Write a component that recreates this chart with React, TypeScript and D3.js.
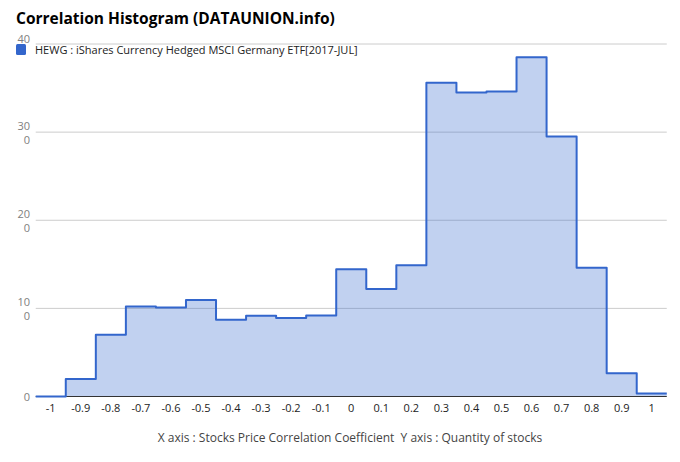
import React from "react";
import * as d3 from "d3";

const title = "Correlation Histogram (DATAUNION.info)";
const seriesName = "HEWG : iShares Currency Hedged MSCI Germany ETF[2017-JUL]";
const caption = "X axis : Stocks Price Correlation Coefficient  Y axis : Quantity of stocks";

const binCenters = [-1, -0.9, -0.8, -0.7, -0.6, -0.5, -0.4, -0.3, -0.2, -0.1, 0, 0.1, 0.2, 0.3, 0.4, 0.5, 0.6, 0.7, 0.8, 0.9, 1];
const counts = [0, 2, 7, 10.2, 10.1, 10.95, 8.7, 9.15, 8.9, 9.2, 14.45, 12.2, 14.9, 35.6, 34.5, 34.6, 38.5, 29.5, 14.6, 2.65, 0.35];
const xTicks = [-1, -0.9, -0.8, -0.7, -0.6, -0.5, -0.4, -0.3, -0.2, -0.1, 0, 0.1, 0.2, 0.3, 0.4, 0.5, 0.6, 0.7, 0.8, 0.9, 1];
const yTicks = [0, 10, 20, 30, 40];
const yTickLines: string[][] = [["0"], ["10", "0"], ["20", "0"], ["30", "0"], ["40"]];

const W = 680;
const H = 462;
const binWidth = 0.1;

export default function App() {
  const x = d3.scaleLinear().domain([-1, 1]).range([50.75, 651.75]);
  const y = d3.scaleLinear().domain([0, 40]).range([396.5, 44]);
  const left = x(-1.05);
  const right = x(1.05);

  const pts: [number, number][] = binCenters.map((c, i) => [c - binWidth / 2, counts[i]]);
  pts.push([binCenters[binCenters.length - 1] + binWidth / 2, counts[counts.length - 1]]);

  const area = d3
    .area<[number, number]>()
    .x((d) => x(d[0]))
    .y0(y(0))
    .y1((d) => y(d[1]))
    .curve(d3.curveStepAfter);
  const line = d3
    .line<[number, number]>()
    .x((d) => x(d[0]))
    .y((d) => y(d[1]))
    .curve(d3.curveStepAfter);

  const font = "'Open Sans', 'Noto Sans', sans-serif";
  const lineGap = 14;

  return (
    <svg
      width={W}
      height={H}
      style={{ position: "absolute", left: 0, top: 0, fontFamily: font }}
    >
      <rect x={0} y={0} width={W} height={H} fill="#fff" />
      <text x={16} y={24} fontSize={15.5} fontWeight="bold" fill="#000">
        {title}
      </text>
      {yTicks.map((t) =>
        t === 0 ? null : (
          <line key={"g" + t} x1={left} x2={right} y1={y(t)} y2={y(t)} stroke="#cccccc" strokeWidth={1} />
        )
      )}
      <path d={area(pts) || ""} fill="#3366cc" fillOpacity={0.3} />
      <line x1={left} x2={right} y1={y(0)} y2={y(0)} stroke="#333" strokeWidth={1} />
      <path d={line(pts) || ""} fill="none" stroke="#3366cc" strokeWidth={2} strokeLinejoin="round" />
      {yTicks.map((t, i) => {
        const lines = yTickLines[i];
        const isTop = t === 40;
        const y0 = isTop ? y(t) - 6 : y(t) - ((lines.length - 1) * lineGap) / 2;
        return lines.map((l, j) => (
          <text
            key={"yl" + t + "_" + j}
            x={30}
            y={y0 + j * lineGap}
            fontSize={11}
            fill="#808080"
            textAnchor="end"
            dominantBaseline="central"
          >
            {l}
          </text>
        ));
      })}
      {xTicks.map((t) => (
        <text key={"xl" + t} x={x(t)} y={412} fontSize={11} fill="#222" textAnchor="middle">
          {String(t)}
        </text>
      ))}
      <rect x={16} y={44} width={10} height={11} rx={1.5} fill="#3366cc" />
      <text x={35} y={54} fontSize={11} fill="#222">
        {seriesName}
      </text>
      <text x={350} y={442} fontSize={12} fill="#444" textAnchor="middle" style={{ whiteSpace: "pre" }}>
        {caption}
      </text>
    </svg>
  );
}
